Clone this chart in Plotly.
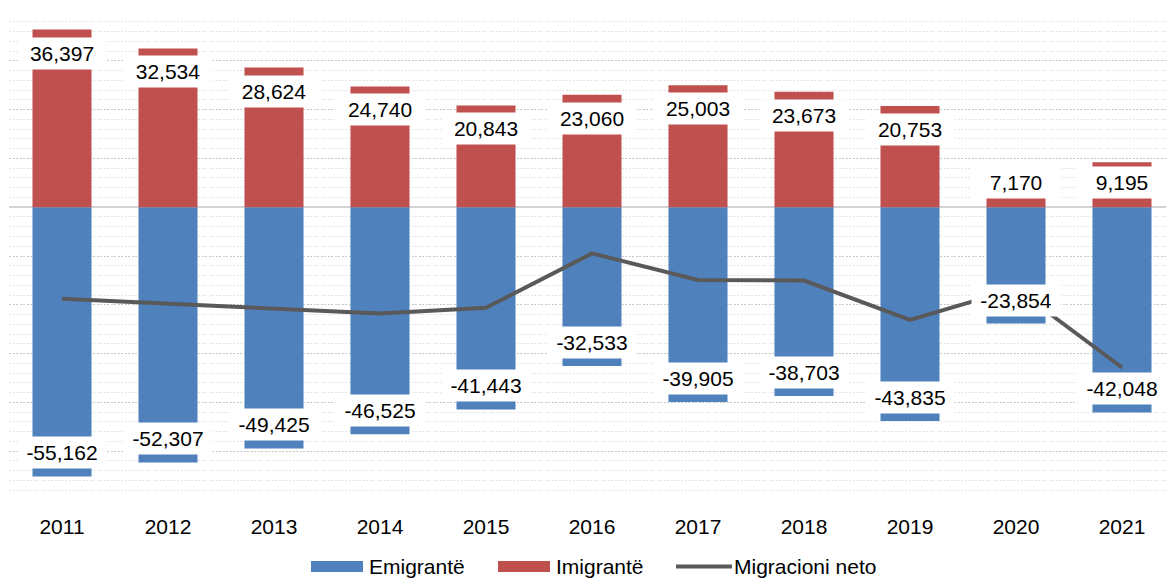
import plotly.graph_objects as go

years = ["2011", "2012", "2013", "2014", "2015", "2016", "2017", "2018", "2019", "2020", "2021"]
emigrante = [-55162, -52307, -49425, -46525, -41443, -32533, -39905, -38703, -43835, -23854, -42048]
imigrante = [36397, 32534, 28624, 24740, 20843, 23060, 25003, 23673, 20753, 7170, 9195]
migracioni_neto = [-18765, -19773, -20801, -21785, -20600, -9473, -14902, -15030, -23082, -16684, -32853]

BLUE = "#4F81BD"
RED = "#C0504D"
LINE = "#595959"
FONT = "Liberation Sans, Arial, sans-serif"

W, H = 1166, 578
ML, MR, MT, MB = 9, 0, 12, 78
PW, PH = W - ML - MR, H - MT - MB
YMIN, YMAX = -60000, 40000
STEP = 106.0  # px per category
PXPER = PH / (YMAX - YMIN)

fig = go.Figure()
fig.add_trace(go.Bar(x=years, y=emigrante, name="Emigrantë", marker=dict(color=BLUE, line=dict(width=0))))
fig.add_trace(go.Bar(x=years, y=imigrante, name="Imigrantë", marker=dict(color=RED, line=dict(width=0))))
fig.add_trace(go.Scatter(x=years, y=migracioni_neto, name="Migracioni neto", mode="lines",
                         line=dict(color=LINE, width=4)))

BOX_H = 34
GAP = 7

def fmt(v):
    return f"{v:,}"

annotations = []
for i, v in enumerate(imigrante):
    hpx = v * PXPER
    if hpx >= BOX_H + GAP + 8:
        annotations.append(dict(x=i, y=v, yanchor="top", yshift=-GAP, text=fmt(v)))
    else:
        annotations.append(dict(x=i, y=0, yanchor="bottom", yshift=8, text=fmt(v)))
for i, v in enumerate(emigrante):
    annotations.append(dict(x=i, y=v, yanchor="bottom", yshift=GAP, text=fmt(v)))

for a in annotations:
    a.update(xref="x", yref="y", showarrow=False, bgcolor="white", borderpad=4,
             width=80, align="center", xanchor="center",
             font=dict(family=FONT, size=21, color="#000000"))

# custom legend (pixel positions converted to paper coords)
def px_x(px):
    return (px - ML) / PW

def px_y(py):
    return (MT + PH - py) / PH

shapes = []
legend_items = [
    ("bar", BLUE, 311, 363, "Emigrantë", 367),
    ("bar", RED, 498, 550, "Imigrantë", 554),
    ("line", LINE, 676, 732, "Migracioni neto", 732),
]
LY = 566.5
for kind, col, x0, x1, label, tx in legend_items:
    if kind == "bar":
        shapes.append(dict(type="rect", xref="paper", yref="paper",
                           x0=px_x(x0), x1=px_x(x1), y0=px_y(LY + 5.5), y1=px_y(LY - 5.5),
                           fillcolor=col, line=dict(width=0)))
    else:
        shapes.append(dict(type="line", xref="paper", yref="paper",
                           x0=px_x(x0), x1=px_x(x1), y0=px_y(LY), y1=px_y(LY),
                           line=dict(color=col, width=4)))
    annotations.append(dict(xref="paper", yref="paper", x=px_x(tx), y=px_y(LY),
                            xanchor="left", yanchor="middle", showarrow=False, text=label,
                            font=dict(family=FONT, size=21, color="#000000")))

fig.update_layout(
    width=W, height=H,
    margin=dict(l=ML, r=MR, t=MT, b=MB, pad=0),
    paper_bgcolor="white", plot_bgcolor="white",
    barmode="relative", bargap=0.443,
    showlegend=False,
    font=dict(family=FONT, size=21, color="#000000"),
    annotations=annotations,
    shapes=shapes,
)
fig.update_xaxes(type="category", range=[-0.5, -0.5 + PW / STEP], showgrid=False, zeroline=False,
                 showline=False, ticks="", ticklabelstandoff=12,
                 tickfont=dict(family=FONT, size=21, color="#000000"))
fig.update_yaxes(range=[YMIN, YMAX], dtick=10000, tick0=0, showticklabels=False,
                 showgrid=True, gridcolor="#C8C8C8", gridwidth=1, griddash="2px,1.5px",
                 minor=dict(dtick=2000, showgrid=True, gridcolor="#E4E4E4", gridwidth=1, griddash="2px,1.5px"),
                 zeroline=True, zerolinecolor="#D4D4D4", zerolinewidth=2, showline=False)

fig.write_html("out.html", config={"displayModeBar": False},
               post_script="document.body.style.margin='0';document.body.style.overflow='hidden';")
